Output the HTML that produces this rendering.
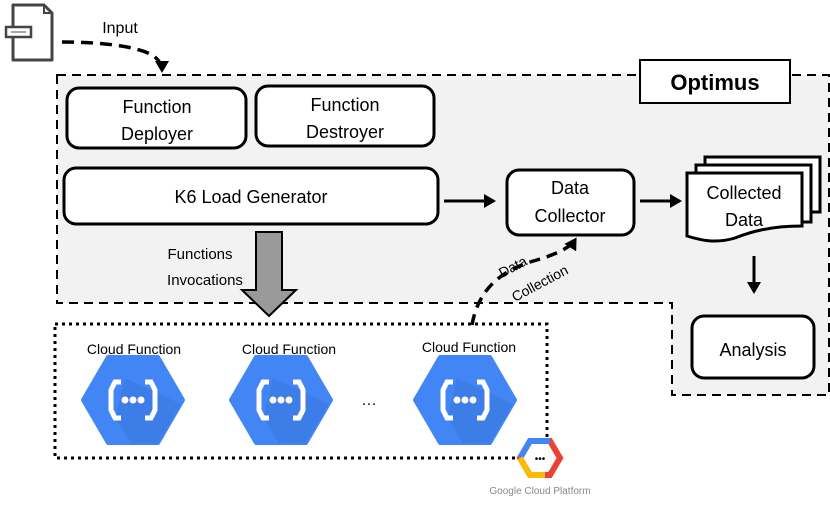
<!DOCTYPE html>
<html><head><meta charset="utf-8"><style>
html,body{margin:0;padding:0;background:#fff;}
svg{display:block;font-family:"Liberation Sans",sans-serif;}
</style></head><body>
<svg width="830" height="506" viewBox="0 0 830 506" xmlns="http://www.w3.org/2000/svg">
<defs>
<marker id="ah" markerWidth="14" markerHeight="14" refX="9" refY="7" orient="auto" markerUnits="userSpaceOnUse"><path d="M0,0 L12,7 L0,14 z" fill="#000"/></marker>
<marker id="ah2" markerWidth="14" markerHeight="14" refX="10" refY="7" orient="auto" markerUnits="userSpaceOnUse"><path d="M0,0 L12,7 L0,14 z" fill="#000"/></marker>
<g id="hex">
<polygon points="-50,0 -25,-43 25,-43 50,0 25,43 -25,43" fill="#4285f4" stroke="#4285f4" stroke-width="4" stroke-linejoin="round"/>
<polygon points="-8,-22 48,4 25,43 -2,43 -18,18" fill="#3b78e0" opacity="0.6"/>
<path d="M-12,-18 L-18,-18 L-22,-10 L-22,10 L-18,18 L-12,18" fill="none" stroke="#fff" stroke-width="5"/>
<path d="M12,-18 L18,-18 L22,-10 L22,10 L18,18 L12,18" fill="none" stroke="#fff" stroke-width="5"/>
<circle cx="-8" cy="0" r="3.5" fill="#fff"/><circle cx="0" cy="0" r="3.5" fill="#fff"/><circle cx="8" cy="0" r="3.5" fill="#fff"/>
</g>
</defs>

<path d="M57,75 L829,75 L829,395 L672,395 L672,303 L57,303 Z" fill="#f2f2f2" stroke="#000" stroke-width="2" stroke-dasharray="9,6"/>
<rect x="640" y="60" width="150" height="43" fill="#fff" stroke="#000" stroke-width="2"/>
<text x="715" y="90" font-size="22" font-weight="bold" text-anchor="middle">Optimus</text>

<path d="M13,5 L44,5 L52,13 L52,60 L13,60 Z" fill="#fff" stroke="#444" stroke-width="3" stroke-linejoin="round"/>
<rect x="6" y="27" width="25" height="10" fill="#fff" stroke="#444" stroke-width="2.5"/>
<line x1="11" y1="32" x2="26" y2="32" stroke="#888" stroke-width="1.5"/>
<path d="M44,5 L44,13 L52,13" fill="none" stroke="#444" stroke-width="2"/>
<text x="120" y="33" font-size="16" text-anchor="middle">Input</text>
<path d="M62,42 C110,42 140,48 152,55 C160,60 162,66 162,70" fill="none" stroke="#000" stroke-width="3.5" stroke-dasharray="12,7" marker-end="url(#ah)"/>

<rect x="67" y="88" width="179" height="60" rx="12" fill="#fff" stroke="#000" stroke-width="3"/>
<text x="157" y="113" font-size="18" text-anchor="middle">Function</text>
<text x="157" y="140" font-size="18" text-anchor="middle">Deployer</text>
<rect x="256" y="86" width="178" height="60" rx="12" fill="#fff" stroke="#000" stroke-width="3"/>
<text x="345" y="111" font-size="18" text-anchor="middle">Function</text>
<text x="345" y="138" font-size="18" text-anchor="middle">Destroyer</text>
<rect x="64" y="168" width="374" height="56" rx="12" fill="#fff" stroke="#000" stroke-width="3"/>
<text x="251" y="203" font-size="18" text-anchor="middle">K6 Load Generator</text>
<rect x="507" y="170" width="127" height="65" rx="12" fill="#fff" stroke="#000" stroke-width="3"/>
<text x="570" y="194" font-size="18" text-anchor="middle">Data</text>
<text x="570" y="222" font-size="18" text-anchor="middle">Collector</text>
<line x1="444" y1="201" x2="494" y2="201" stroke="#000" stroke-width="3" marker-end="url(#ah2)"/>
<line x1="640" y1="201" x2="680" y2="201" stroke="#000" stroke-width="3" marker-end="url(#ah2)"/>

<path d="M705,157 L820,157 L820,212 L705,212 Z" fill="#fff" stroke="#000" stroke-width="3"/>
<path d="M696,165 L811,165 L811,222 L696,222 Z" fill="#fff" stroke="#000" stroke-width="3"/>
<path d="M687,173 L802,173 L802,226 C770,226 750,232 735,238 C715,244 700,240 687,236 Z" fill="#fff" stroke="#000" stroke-width="3"/>
<text x="744" y="199" font-size="18" text-anchor="middle">Collected</text>
<text x="744" y="226" font-size="18" text-anchor="middle">Data</text>
<line x1="754" y1="256" x2="754" y2="292" stroke="#000" stroke-width="3" marker-end="url(#ah2)"/>
<rect x="692" y="316" width="122" height="62" rx="12" fill="#fff" stroke="#000" stroke-width="3"/>
<text x="753" y="356" font-size="18" text-anchor="middle">Analysis</text>

<path d="M256,232 L282,232 L282,290 L296,290 L269,316 L242,290 L256,290 Z" fill="#999" stroke="#000" stroke-width="2"/>
<text x="200" y="259" font-size="15" text-anchor="middle">Functions</text>
<text x="205" y="285" font-size="15" text-anchor="middle">Invocations</text>

<rect x="55" y="324" width="492" height="134" fill="none" stroke="#000" stroke-width="3" stroke-dasharray="3,4"/>
<text x="134" y="354" font-size="14" text-anchor="middle">Cloud Function</text>
<text x="289" y="354" font-size="14" text-anchor="middle">Cloud Function</text>
<text x="469" y="352" font-size="14" text-anchor="middle">Cloud Function</text>
<use href="#hex" x="133" y="400"/>
<use href="#hex" x="281" y="400"/>
<use href="#hex" x="465" y="400"/>
<text x="369" y="405" font-size="16" text-anchor="middle">…</text>

<path d="M472,325 C478,290 500,272 530,262 C555,255 570,248 575,240" fill="none" stroke="#000" stroke-width="3.5" stroke-dasharray="11,7" marker-end="url(#ah)"/>
<text transform="translate(502,278) rotate(-28)" font-size="14">Data</text>
<text transform="translate(515,302) rotate(-28)" font-size="14">Collection</text>

<g transform="translate(540,458)">
<polygon points="-20,0 -10,-17 10,-17 20,0 10,17 -10,17" fill="#fff" stroke="#ea4335" stroke-width="6"/>
<path d="M-20,0 L-10,-17 L10,-17" fill="none" stroke="#4285f4" stroke-width="6"/>
<path d="M-20,0 L-10,17 L5,17" fill="none" stroke="#fbbc05" stroke-width="6"/>
<text x="0" y="4" font-size="10" text-anchor="middle">•••</text>
</g>
<text x="540" y="494" font-size="10" fill="#888" text-anchor="middle">Google Cloud Platform</text>
</svg>
</body></html>
